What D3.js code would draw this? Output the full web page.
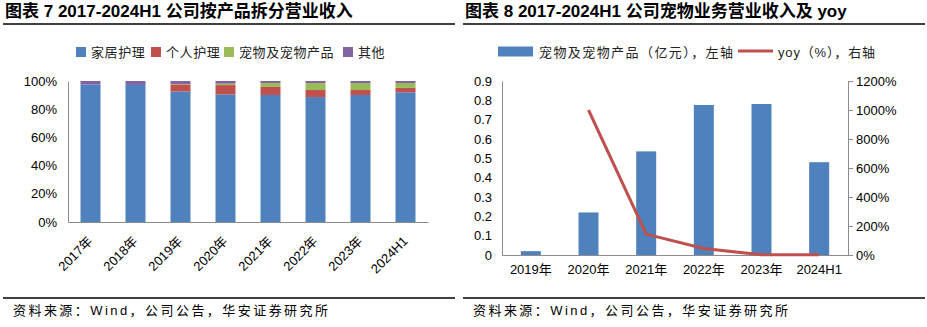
<!DOCTYPE html>
<html><head><meta charset="utf-8">
<script src="https://cdn.jsdelivr.net/npm/d3@7/dist/d3.min.js"></script>
<style>
body{margin:0;background:#fff;}
svg{display:block;}
text{font-family:"Liberation Sans",Arial,"Noto Sans CJK SC",sans-serif;}
</style></head><body>
<svg id="c" width="927" height="327"></svg>
<script>
// ---------- data ----------
const leftTitle = "图表 7 2017-2024H1 公司按产品拆分营业收入";
const rightTitle = "图表 8 2017-2024H1 公司宠物业务营业收入及 yoy";
const source = "资料来源：Wind，公司公告，华安证券研究所";

const catsL = ["2017年","2018年","2019年","2020年","2021年","2022年","2023年","2024H1"];
const seriesNames = ["家居护理","个人护理","宠物及宠物产品","其他"];
const homeCare   = [97.6, 97.2, 92.6, 90.5, 90.1, 88.6, 90.1, 92.0];
const personal   = [0.0, 0.0, 5.0, 6.6, 5.7, 5.0, 3.5, 3.1];
const pet        = [0.0, 0.0, 0.3, 1.0, 2.8, 5.0, 5.0, 3.5];
const other      = [2.4, 2.8, 2.1, 1.9, 1.4, 1.4, 1.4, 1.4];
const colors     = ["#4F81BD","#C0504D","#9BBB59","#8064A2"];
const pctTicks   = [0,20,40,60,80,100];

const catsR = ["2019年","2020年","2021年","2022年","2023年","2024H1"];
const petRevenue = [0.02, 0.22, 0.536, 0.776, 0.781, 0.48];
const petYoy     = [null, 1000, 144, 45, 1, 1];
const leftTicksR = [0,0.1,0.2,0.3,0.4,0.5,0.6,0.7,0.8,0.9];
const rightTicksR = [0,200,400,600,800,1000,1200];
const legendR = ["宠物及宠物产品（亿元），左轴","yoy（%），右轴"];

// ---------- drawing ----------
const svg = d3.select("#c");
const axisCol = "#8c8c8c";
const cjk = '"Noto Sans CJK SC",sans-serif';

function header(x0, x1, title) {
  svg.append("text").attr("x", x0 + 2).attr("y", 17)
    .attr("font-size", 17).attr("font-weight", "bold").attr("fill", "#000")
    .style("font-family", '"Liberation Sans",Arial,"Noto Sans CJK SC",sans-serif')
    .text(title);
  svg.append("line").attr("x1", x0).attr("x2", x1).attr("y1", 24).attr("y2", 24)
    .attr("stroke", "#000").attr("stroke-width", 1.3);
  svg.append("line").attr("x1", x0).attr("x2", x1).attr("y1", 298).attr("y2", 298)
    .attr("stroke", "#000").attr("stroke-width", 1.3);
  svg.append("text").attr("x", x0 + 10).attr("y", 315)
    .attr("font-size", 13).attr("fill", "#000")
    .attr("textLength", 315).attr("lengthAdjust", "spacing")
    .style("font-family", '"Liberation Sans Narrow","Liberation Sans","Noto Sans CJK SC",sans-serif')
    .text(source);
}
header(3, 455, leftTitle);
header(463, 925, rightTitle);

// ----- left chart -----
const L = {x0: 68, x1: 428, y0: 222, y1: 81};
const xL = d3.scaleBand().domain(catsL).range([L.x0, L.x1]);
const yL = d3.scaleLinear().domain([0, 100]).range([L.y0, L.y1]);
const stackData = catsL.map((c, i) => ({cat: c, s0: homeCare[i], s1: personal[i], s2: pet[i], s3: other[i]}));
const stack = d3.stack().keys(["s0","s1","s2","s3"])(stackData);
const barWL = 20;
const gL = svg.append("g");
stack.forEach((layer, k) => {
  gL.selectAll(null).data(layer).enter().append("rect")
    .attr("x", d => xL(d.data.cat) + xL.bandwidth()/2 - barWL/2)
    .attr("width", barWL)
    .attr("y", d => yL(Math.min(100, d[1])))
    .attr("height", d => Math.max(0, yL(d[0]) - yL(Math.min(100, d[1]))))
    .attr("fill", colors[k]);
});
// axes
const ayL = svg.append("g").attr("transform", `translate(${L.x0},0)`)
  .call(d3.axisLeft(yL).tickValues(pctTicks).tickFormat(d => d + "%").tickSize(0).tickPadding(11));
ayL.select(".domain").attr("stroke", axisCol);
ayL.selectAll("text").attr("font-size", 13).attr("fill", "#000")
  .style("font-family", '"Liberation Sans",Arial,sans-serif');
const axL = svg.append("g").attr("transform", `translate(0,${L.y0})`)
  .call(d3.axisBottom(xL).tickSize(0).tickPadding(0));
axL.select(".domain").attr("stroke", axisCol);
axL.selectAll("text").attr("font-size", 13).attr("fill", "#000")
  .attr("text-anchor", "end").attr("dy", 0).attr("y", 0)
  .attr("transform", "translate(3,20) rotate(-45)")
  .style("font-family", '"Liberation Sans",Arial,"Noto Sans CJK SC",sans-serif');

// left legend
const legXs = [76, 151, 224, 343];
seriesNames.forEach((n, k) => {
  svg.append("rect").attr("x", legXs[k]).attr("y", 47).attr("width", 10).attr("height", 10).attr("fill", colors[k]);
  svg.append("text").attr("x", legXs[k] + 15).attr("y", 57)
    .attr("font-size", 13).attr("letter-spacing", 0.6).attr("fill", "#222")
    .style("font-family", cjk).text(n);
});

// ----- right chart -----
const R = {x0: 502, x1: 848, y0: 255, y1: 81};
const xR = d3.scaleBand().domain(catsR).range([R.x0, R.x1]);
const yR = d3.scaleLinear().domain([0, 0.9]).range([R.y0, R.y1]);
const yR2 = d3.scaleLinear().domain([0, 1200]).range([R.y0, R.y1]);
const barWR = 20;
svg.append("g").selectAll("rect").data(petRevenue).enter().append("rect")
  .attr("x", (d, i) => xR(catsR[i]) + xR.bandwidth()/2 - barWR/2)
  .attr("width", barWR)
  .attr("y", d => yR(d))
  .attr("height", d => R.y0 - yR(d))
  .attr("fill", colors[0]);

const ayR = svg.append("g").attr("transform", `translate(${R.x0},0)`)
  .call(d3.axisLeft(yR).tickValues(leftTicksR).tickFormat(d => d === 0 ? "0" : d3.format(".1f")(d)).tickSize(0).tickPadding(10));
ayR.select(".domain").attr("stroke", axisCol);
ayR.selectAll("text").attr("font-size", 13).attr("fill", "#000")
  .style("font-family", '"Liberation Sans",Arial,sans-serif');

const ayR2 = svg.append("g").attr("transform", `translate(${R.x1},0)`)
  .call(d3.axisRight(yR2).tickValues(rightTicksR).tickFormat(d => d + "%").tickSizeInner(5).tickSizeOuter(0).tickPadding(3));
ayR2.select(".domain").attr("stroke", axisCol);
ayR2.selectAll("line").attr("stroke", axisCol);
ayR2.selectAll("text").attr("font-size", 13).attr("fill", "#000")
  .style("font-family", '"Liberation Sans",Arial,sans-serif');

const axR = svg.append("g").attr("transform", `translate(0,${R.y0})`)
  .call(d3.axisBottom(xR).tickSize(0).tickPadding(10));
axR.select(".domain").attr("stroke", axisCol);
axR.selectAll("text").attr("font-size", 13).attr("fill", "#000")
  .style("font-family", '"Liberation Sans",Arial,"Noto Sans CJK SC",sans-serif');

const line = d3.line().defined(d => d != null)
  .x((d, i) => xR(catsR[i]) + xR.bandwidth()/2)
  .y(d => yR2(d));
svg.append("path").datum(petYoy).attr("d", line)
  .attr("fill", "none").attr("stroke", "#C0504D").attr("stroke-width", 3)
  .attr("stroke-linejoin", "round");

// right legend
svg.append("rect").attr("x", 498).attr("y", 46.5).attr("width", 35).attr("height", 10).attr("fill", colors[0]);
svg.append("text").attr("x", 539).attr("y", 57).attr("font-size", 13).attr("fill", "#222")
  .attr("textLength", 194).attr("lengthAdjust", "spacing")
  .style("font-family", cjk).text(legendR[0]);
svg.append("line").attr("x1", 738).attr("x2", 773).attr("y1", 51).attr("y2", 51)
  .attr("stroke", "#C0504D").attr("stroke-width", 3);
svg.append("text").attr("x", 778).attr("y", 57).attr("font-size", 13).attr("fill", "#222")
  .attr("textLength", 97).attr("lengthAdjust", "spacing")
  .style("font-family", '"Liberation Sans",Arial,"Noto Sans CJK SC",sans-serif').text(legendR[1]);
</script>
</body></html>
